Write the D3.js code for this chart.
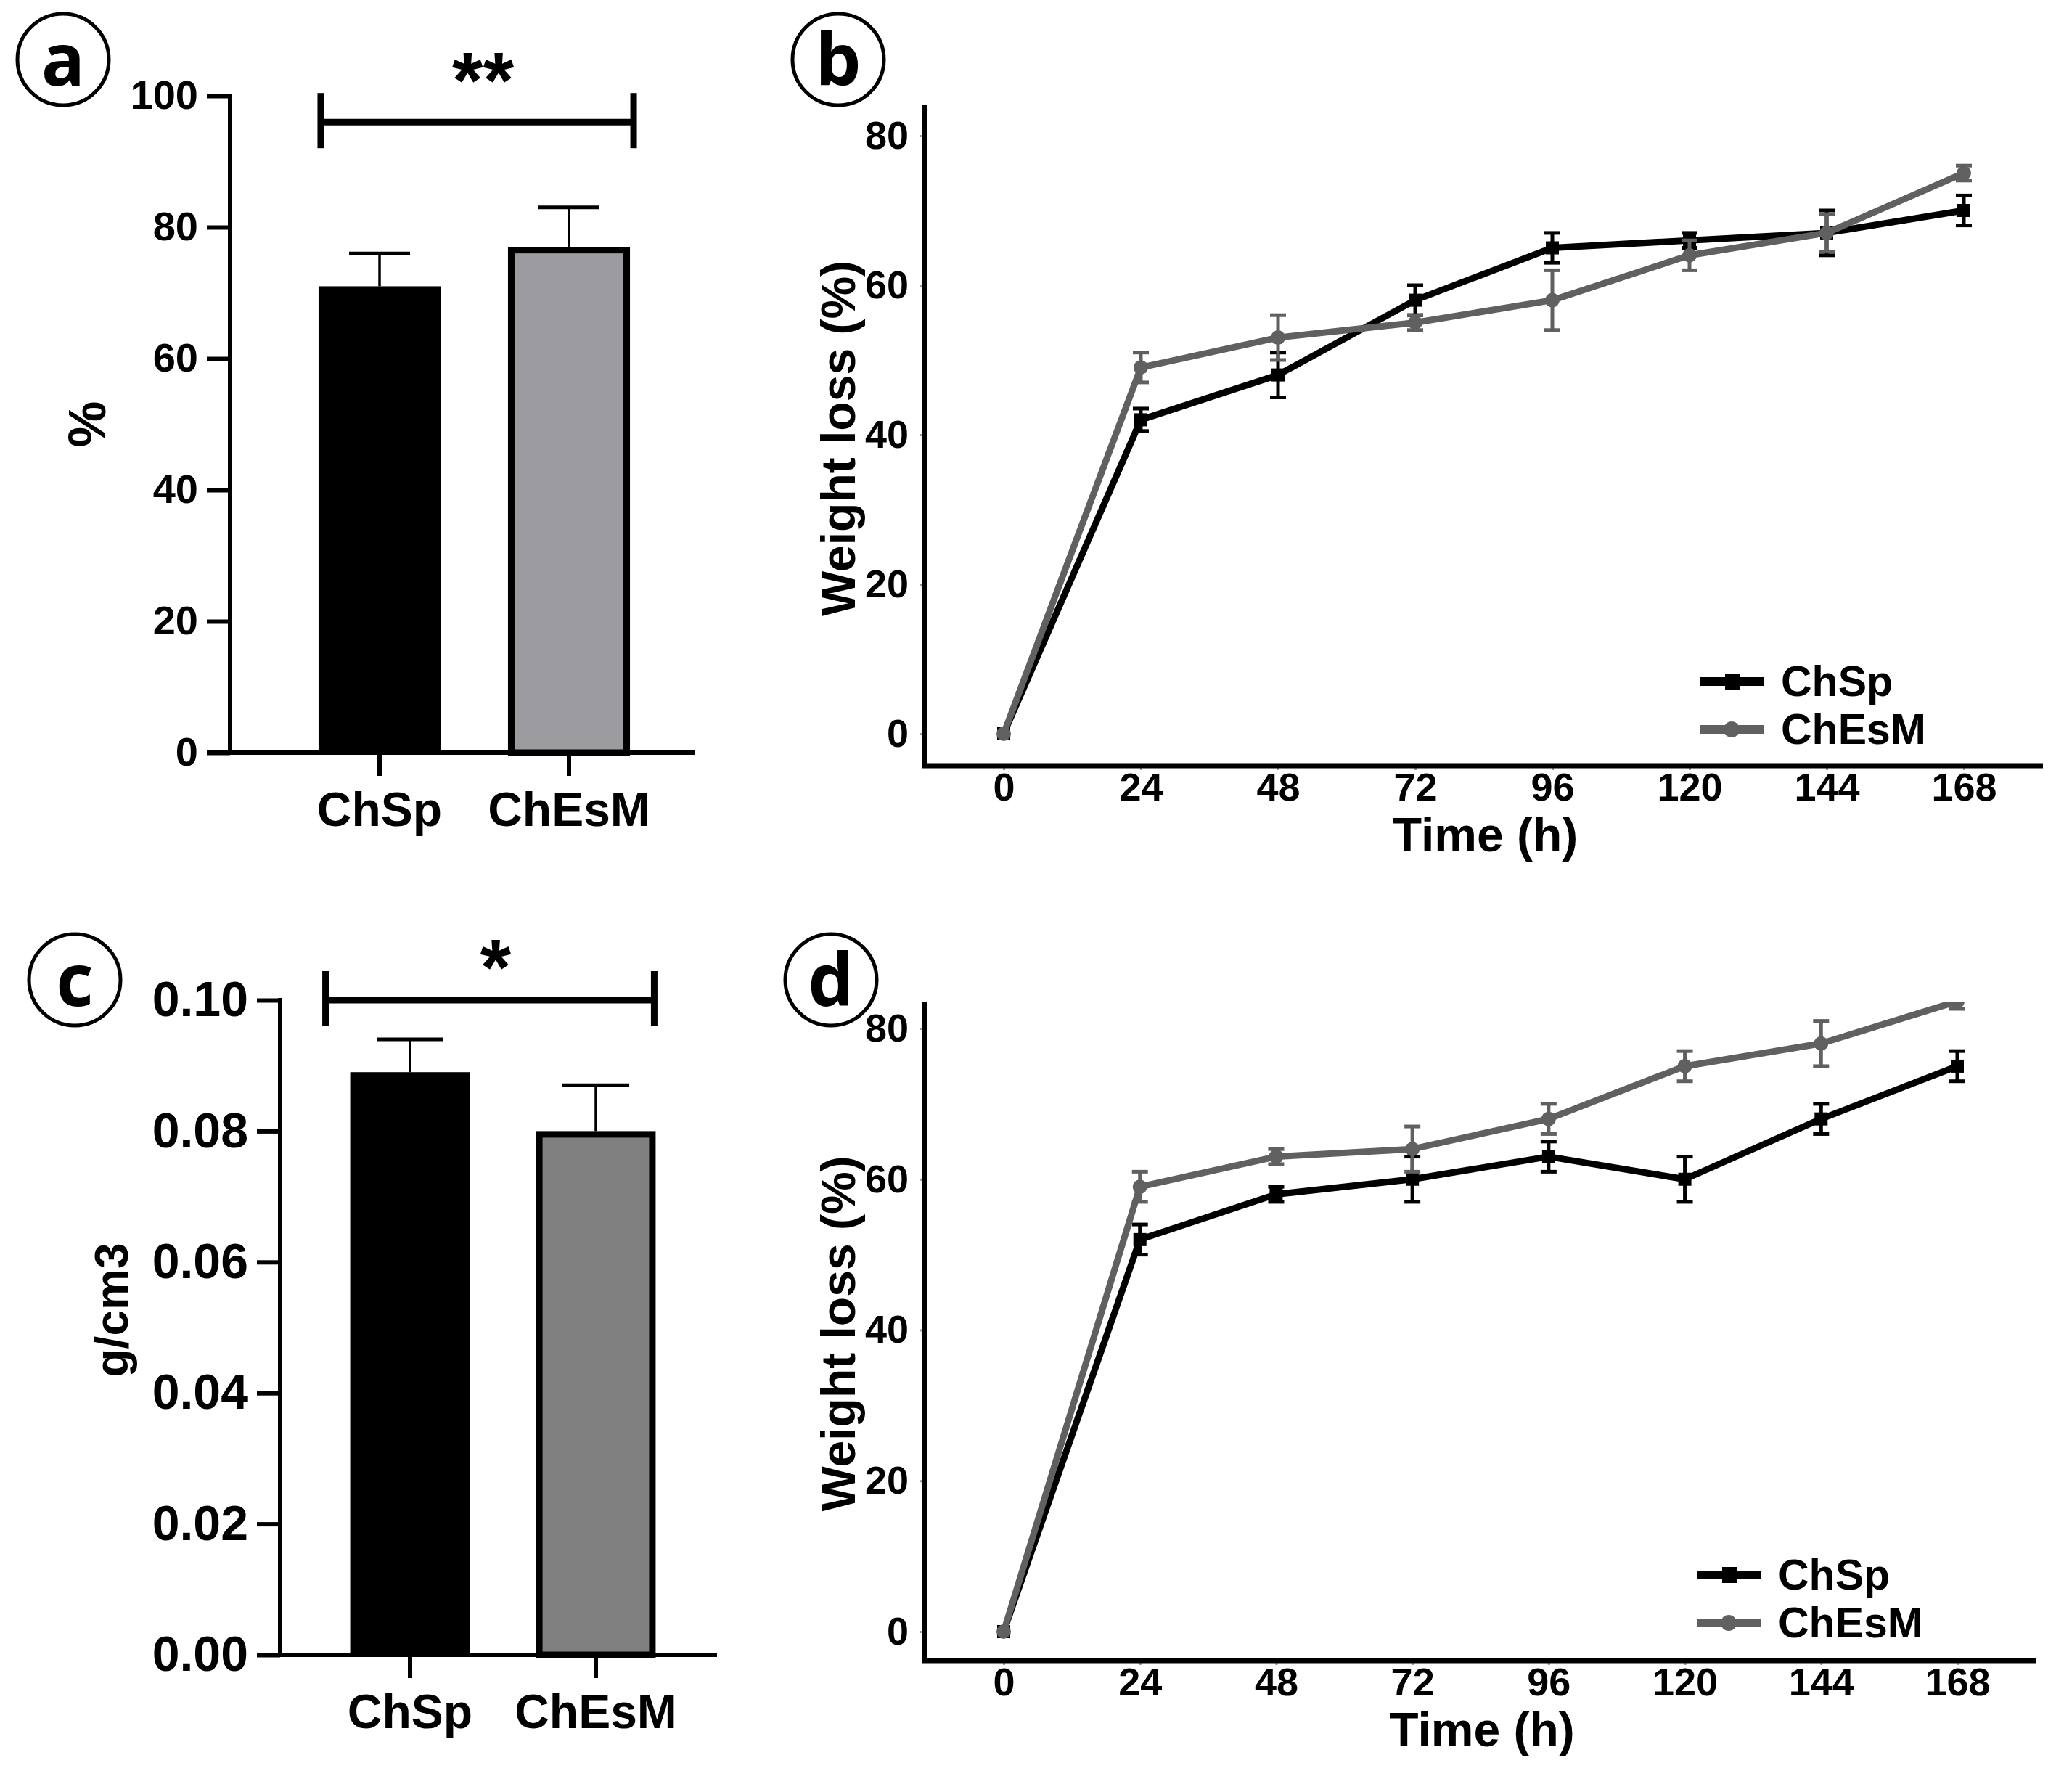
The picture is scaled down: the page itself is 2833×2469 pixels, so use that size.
<!DOCTYPE html>
<html>
<head>
<meta charset="utf-8">
<script src="https://cdn.jsdelivr.net/npm/d3@7"></script>
<style>
  html, body { margin: 0; padding: 0; background: #fff; }
</style>
</head>
<body>
<script>
// ---- data ----
const groups = ["ChSp", "ChEsM"];

// (a) percentage bars
const porosityMean = [71, 77];
const porositySd = [5, 6];
const porosityTicks = [0, 20, 40, 60, 80, 100];

// (c) density bars
const densityMean = [0.089, 0.080];
const densitySd = [0.005, 0.007];
const densityTicks = [0, 0.02, 0.04, 0.06, 0.08, 0.10];

// (b) and (d) weight loss vs time
const hours = [0, 24, 48, 72, 96, 120, 144, 168];
const lossTicks = [0, 20, 40, 60, 80];

const lossB_ChSp = [0, 42, 48, 58, 65, 66, 67, 70];
const lossB_ChSpSd = [0, 1.5, 3, 2, 2, 1, 3, 2];
const lossB_ChEsM = [0, 49, 53, 55, 58, 64, 67, 75];
const lossB_ChEsMSd = [0, 2, 3, 1, 4, 2, 2.5, 1];

const lossD_ChSp = [0, 52, 58, 60, 63, 60, 68, 75];
const lossD_ChSpSd = [0, 2, 1, 3, 2, 3, 2, 2];
const lossD_ChEsM = [0, 59, 63, 64, 68, 75, 78, 83.6];
const lossD_ChEsMSd = [0, 2, 1, 3, 2, 2, 3, 1];

const W = 2833, H = 2469;
const wideFont = "'Liberation Sans', Arial, Helvetica, sans-serif";
const narrowFont = "'Liberation Sans Narrow', 'Arial Narrow', 'Liberation Sans', sans-serif";

const svg = d3.select("body").append("svg")
  .attr("width", W)
  .attr("height", H)
  .attr("viewBox", `0 0 ${W} ${H}`);

svg.append("rect").attr("width", W).attr("height", H).attr("fill", "#fff");

// circled panel letters
function panelLetter(cx, cy, letter) {
  svg.append("circle")
    .attr("cx", cx).attr("cy", cy).attr("r", 63)
    .attr("fill", "none").attr("stroke", "#000").attr("stroke-width", 5);
  svg.append("text")
    .attr("x", cx).attr("y", cy)
    .attr("dy", "0.36em")
    .attr("text-anchor", "middle")
    .style("font-family", "'Open Sans', 'Liberation Sans', sans-serif")
    .style("font-weight", "bold")
    .style("font-size", "100px")
    .text(letter);
}

// GraphPad-style bar chart
function barPanel(p) {
  const g = svg.append("g");
  const y = d3.scaleLinear().domain(p.yDomain).range(p.yRange);
  const x = d3.scaleBand().domain(groups).range(p.xRange)
    .paddingInner(0.356).paddingOuter(0.178);
  const bw = x.bandwidth();

  // bars
  g.selectAll(".bar").data(groups).join("rect")
    .attr("class", "bar")
    .attr("x", (d, i) => x(d) + (i ? 4.5 : 0))
    .attr("y", (d, i) => y(p.means[i]) + (i ? 4.5 : 0))
    .attr("width", (d, i) => bw - (i ? 9 : 0))
    .attr("height", (d, i) => y(0) - y(p.means[i]) - (i ? 4.5 : 0))
    .attr("fill", (d, i) => p.fills[i])
    .attr("stroke", "#000")
    .attr("stroke-width", (d, i) => i ? 9 : 0);

  // upper error bars
  const eb = g.selectAll(".err").data(groups).join("g").attr("class", "err");
  eb.append("line")
    .attr("x1", d => x(d) + bw / 2).attr("x2", d => x(d) + bw / 2)
    .attr("y1", (d, i) => y(p.means[i]))
    .attr("y2", (d, i) => y(p.means[i] + p.sds[i]))
    .attr("stroke", "#000").attr("stroke-width", 3.5);
  eb.append("line")
    .attr("x1", d => x(d) + bw / 2 - p.cap).attr("x2", d => x(d) + bw / 2 + p.cap)
    .attr("y1", (d, i) => y(p.means[i] + p.sds[i]))
    .attr("y2", (d, i) => y(p.means[i] + p.sds[i]))
    .attr("stroke", "#000").attr("stroke-width", 5);

  // y axis
  const ya = g.append("g")
    .attr("transform", `translate(${p.axisX},0)`)
    .call(d3.axisLeft(y).tickValues(p.ticks).tickFormat(p.fmt).tickSize(32).tickPadding(12));
  ya.select(".domain").remove();
  ya.selectAll(".tick line").attr("stroke-width", 6);
  ya.selectAll(".tick text")
    .style("font-family", wideFont).style("font-weight", "bold")
    .style("font-size", p.tickFont + "px").attr("fill", "#000");
  g.append("line")
    .attr("x1", p.axisX).attr("x2", p.axisX)
    .attr("y1", y(p.yDomain[1]) - 3).attr("y2", y(0))
    .attr("stroke", "#000").attr("stroke-width", 6);

  // x axis
  const xa = g.append("g")
    .attr("transform", `translate(0,${y(0)})`)
    .call(d3.axisBottom(x).tickSize(32).tickPadding(22));
  xa.select(".domain").remove();
  xa.selectAll(".tick line").attr("stroke-width", 6);
  xa.selectAll(".tick text")
    .style("font-family", wideFont).style("font-weight", "bold")
    .style("font-size", p.catFont + "px").attr("fill", "#000");
  g.append("line")
    .attr("x1", p.axisX - 32).attr("x2", p.xEnd)
    .attr("y1", y(0)).attr("y2", y(0))
    .attr("stroke", "#000").attr("stroke-width", 6);

  // y label
  g.append("text")
    .attr("transform", `translate(${p.labelX},${(y(0) + y(p.yDomain[1])) / 2 + p.labelShift}) rotate(-90)`)
    .attr("text-anchor", "middle")
    .style("font-family", wideFont).style("font-weight", "bold")
    .style("font-size", p.labelFont + "px")
    .text(p.label);

  // significance bracket
  const bx1 = x(groups[0]) + p.bracketPad[0], bx2 = x(groups[1]) + bw + p.bracketPad[1];
  const by = y(p.bracket);
  g.append("line").attr("x1", bx1).attr("x2", bx2).attr("y1", by).attr("y2", by)
    .attr("stroke", "#000").attr("stroke-width", 9);
  [bx1, bx2].forEach(bx => {
    g.append("line").attr("x1", bx).attr("x2", bx)
      .attr("y1", by - p.bracketUp).attr("y2", by + p.bracketDown)
      .attr("stroke", "#000").attr("stroke-width", 9);
  });
  g.append("text")
    .attr("x", (bx1 + bx2) / 2 + 8).attr("y", by + p.starDrop)
    .attr("text-anchor", "middle")
    .style("font-family", wideFont).style("font-weight", "bold")
    .style("font-size", "110px")
    .text(p.stars);
}

// ggplot-style line chart with error bars
function linePanel(p) {
  const g = svg.append("g");
  const x = d3.scaleLinear().domain([0, 168]).range(p.xRange);
  const y = d3.scaleLinear().domain([0, 80]).range(p.yRange);

  const clipId = "clip" + p.id;
  g.append("clipPath").attr("id", clipId).append("rect")
    .attr("x", p.axisX).attr("y", p.axisTop)
    .attr("width", p.axisRight - p.axisX).attr("height", p.axisY - p.axisTop);
  const plot = g.append("g").attr("clip-path", `url(#${clipId})`);

  const line = d3.line().x(d => x(d.t)).y(d => y(d.v));

  p.series.forEach(s => {
    const pts = hours.map((t, i) => ({ t: t, v: s.values[i], e: s.sd[i] }));
    plot.append("path").datum(pts)
      .attr("d", line)
      .attr("fill", "none").attr("stroke", s.color)
      .attr("stroke-width", 9).attr("stroke-linejoin", "round");

    const eg = plot.selectAll(null).data(pts.filter(d => d.e > 0)).join("g");
    eg.append("line")
      .attr("x1", d => x(d.t)).attr("x2", d => x(d.t))
      .attr("y1", d => y(d.v - d.e)).attr("y2", d => y(d.v + d.e))
      .attr("stroke", s.color).attr("stroke-width", 5);
    [-1, 1].forEach(sg => {
      eg.append("line")
        .attr("x1", d => x(d.t) - 11).attr("x2", d => x(d.t) + 11)
        .attr("y1", d => y(d.v + sg * d.e)).attr("y2", d => y(d.v + sg * d.e))
        .attr("stroke", s.color).attr("stroke-width", 5);
    });

    if (s.shape === "square") {
      plot.selectAll(null).data(pts).join("rect")
        .attr("x", d => x(d.t) - 9).attr("y", d => y(d.v) - 9)
        .attr("width", 18).attr("height", 18)
        .attr("fill", s.color);
    } else {
      plot.selectAll(null).data(pts).join("circle")
        .attr("cx", d => x(d.t)).attr("cy", d => y(d.v)).attr("r", 10)
        .attr("fill", s.color);
    }
  });

  // axes
  const ya = g.append("g")
    .attr("transform", `translate(${p.axisX},0)`)
    .call(d3.axisLeft(y).tickValues(lossTicks).tickSize(6).tickPadding(16));
  ya.select(".domain").remove();
  ya.selectAll(".tick line").attr("stroke", "#999").attr("stroke-width", 3);
  ya.selectAll(".tick text")
    .style("font-family", narrowFont).style("font-weight", "bold")
    .style("font-size", "54px").attr("fill", "#000");

  const xa = g.append("g")
    .attr("transform", `translate(0,${p.axisY})`)
    .call(d3.axisBottom(x).tickValues(hours).tickSize(6).tickPadding(4));
  xa.select(".domain").remove();
  xa.selectAll(".tick line").attr("stroke", "#999").attr("stroke-width", 3);
  xa.selectAll(".tick text")
    .style("font-family", narrowFont).style("font-weight", "bold")
    .style("font-size", "54px").attr("fill", "#000");

  g.append("line").attr("x1", p.axisX).attr("x2", p.axisX)
    .attr("y1", p.axisTop).attr("y2", p.axisY + 3)
    .attr("stroke", "#000").attr("stroke-width", 6);
  g.append("line").attr("x1", p.axisX - 3).attr("x2", p.axisRight)
    .attr("y1", p.axisY).attr("y2", p.axisY)
    .attr("stroke", "#000").attr("stroke-width", 7);

  // titles
  g.append("text")
    .attr("x", (p.xRange[0] + p.xRange[1]) / 2 + 2).attr("y", p.axisY + 118)
    .attr("text-anchor", "middle")
    .style("font-family", narrowFont).style("font-weight", "bold")
    .style("font-size", "66px")
    .text("Time (h)");
  g.append("text")
    .attr("transform", `translate(${p.axisX - 96},${(y(0) + y(80)) / 2 + 5}) rotate(-90)`)
    .attr("text-anchor", "middle")
    .style("font-family", wideFont).style("font-weight", "bold")
    .style("font-size", "66px")
    .text("Weight loss (%)");

  // legend
  p.series.forEach((s, i) => {
    const ly = p.legendY - 5 + i * 66;
    g.append("line").attr("x1", p.legendX).attr("x2", p.legendX + 88)
      .attr("y1", ly).attr("y2", ly)
      .attr("stroke", s.color).attr("stroke-width", 12);
    if (s.shape === "square") {
      g.append("rect").attr("x", p.legendX + 35).attr("y", ly - 11)
        .attr("width", 20).attr("height", 22).attr("fill", s.color);
    } else {
      g.append("circle").attr("cx", p.legendX + 44).attr("cy", ly).attr("r", 11)
        .attr("fill", s.color);
    }
    g.append("text")
      .attr("x", p.legendX + 112).attr("y", ly + 20)
      .style("font-family", narrowFont).style("font-weight", "bold")
      .style("font-size", "59px")
      .text(s.name);
  });
}

// ---- panels ----
panelLetter(87, 82, "a");
panelLetter(1155, 82, "b");
panelLetter(103, 1350, "c");
panelLetter(1145, 1350, "d");

barPanel({
  yDomain: [0, 100], yRange: [1037, 132],
  xRange: [392.5, 914.5], axisX: 317, xEnd: 957,
  means: porosityMean, sds: porositySd, fills: ["#000", "#9c9ca0"],
  ticks: porosityTicks, fmt: d3.format("d"),
  tickFont: 56, catFont: 66, cap: 42,
  label: "%", labelX: 145, labelFont: 72, labelShift: 0,
  bracket: 96, bracketUp: 40, bracketDown: 36, bracketPad: [3, 5],
  stars: "**", starDrop: -20
});

barPanel({
  yDomain: [0, 0.10], yRange: [2280, 1378],
  xRange: [437, 949], axisX: 386, xEnd: 988,
  means: densityMean, sds: densitySd, fills: ["#000", "#808080"],
  ticks: densityTicks, fmt: d3.format(".2f"),
  tickFont: 68, catFont: 66, cap: 46,
  label: "g/cm3", labelX: 176, labelFont: 64, labelShift: -24,
  bracket: 0.10, bracketUp: 40, bracketDown: 36, bracketPad: [-34, -2],
  stars: "*", starDrop: -8
});

linePanel({
  id: "b", xRange: [1383, 2706], yRange: [1011, 187],
  axisX: 1274, axisTop: 145, axisY: 1055, axisRight: 2815,
  legendX: 2342, legendY: 944,
  series: [
    { name: "ChSp", values: lossB_ChSp, sd: lossB_ChSpSd, color: "#000", shape: "square" },
    { name: "ChEsM", values: lossB_ChEsM, sd: lossB_ChEsMSd, color: "#606060", shape: "circle" }
  ]
});

linePanel({
  id: "d", xRange: [1383, 2697], yRange: [2248, 1417],
  axisX: 1274, axisTop: 1381, axisY: 2288, axisRight: 2806,
  legendX: 2338, legendY: 2175,
  series: [
    { name: "ChSp", values: lossD_ChSp, sd: lossD_ChSpSd, color: "#000", shape: "square" },
    { name: "ChEsM", values: lossD_ChEsM, sd: lossD_ChEsMSd, color: "#606060", shape: "circle" }
  ]
});
</script>
</body>
</html>
